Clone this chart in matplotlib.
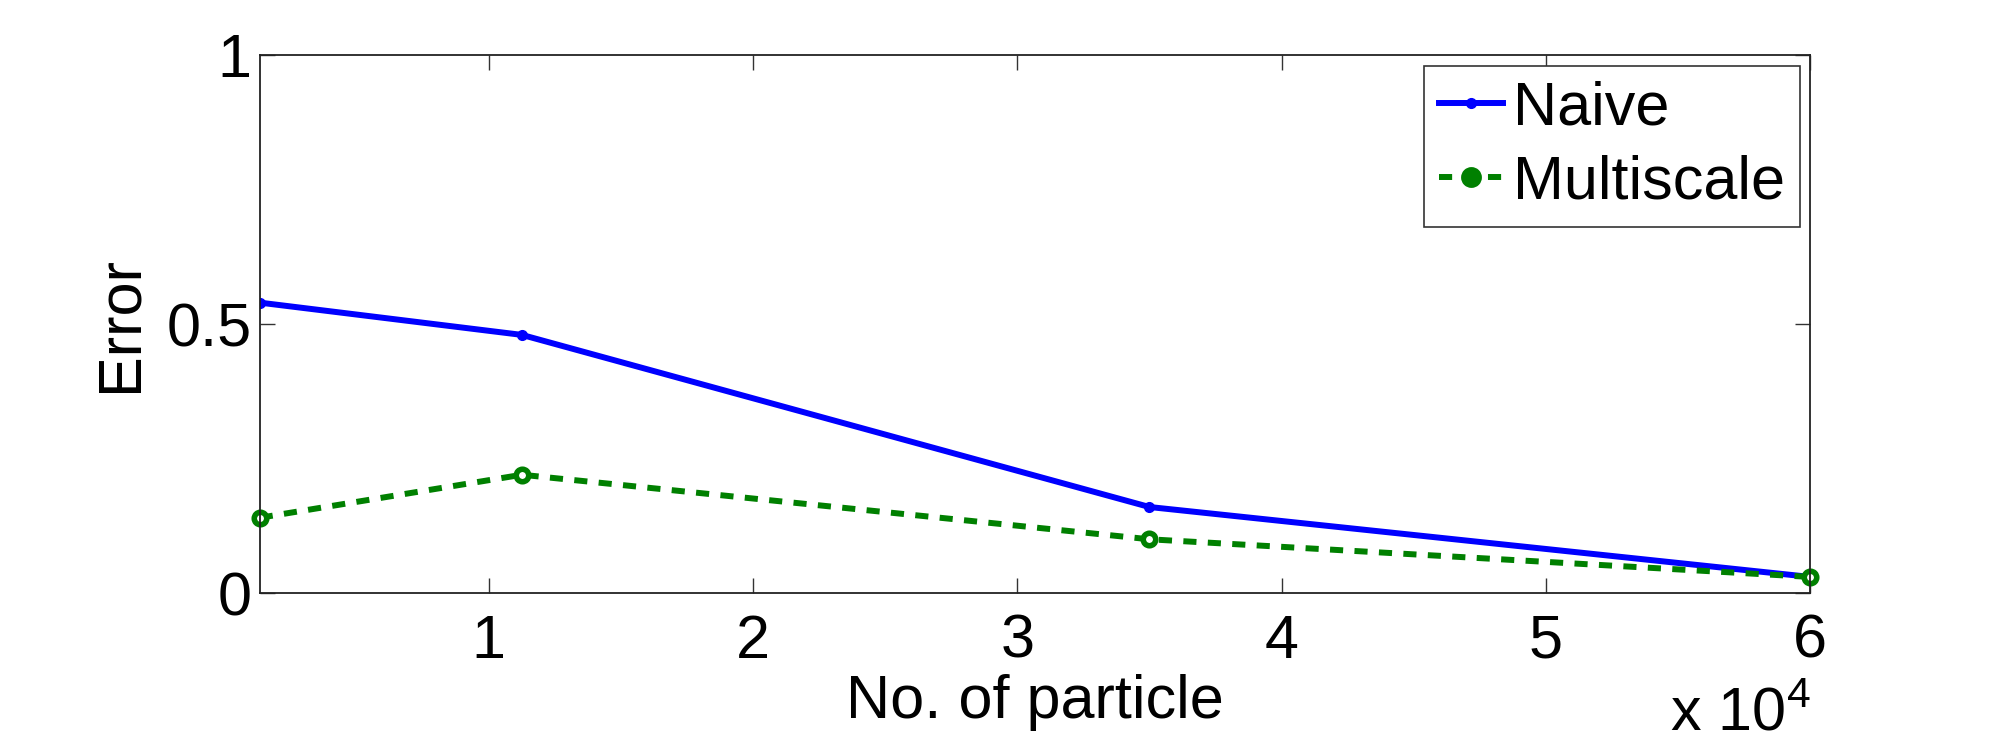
import matplotlib
matplotlib.use("Agg")
import matplotlib.pyplot as plt
import numpy as np

# data
particles = [1340, 11260, 35000, 60000]
naive_err = [0.54, 0.48, 0.16, 0.03]
multi_err = [0.14, 0.22, 0.10, 0.03]
x_ticks = [1, 2, 3, 4, 5, 6]
y_ticks = [0, 0.5, 1]
y_ticklabels = ["0", "0.5", "1"]

blue = (0, 0, 1)
green = (0, 0.5, 0)
fs = 44

plt.rcParams['font.family'] = ['Liberation Sans', 'DejaVu Sans']

fig = plt.figure(figsize=(19.98, 7.46), dpi=100)
ax = fig.add_axes([0.130, 0.205, 0.776, 0.721])

xs = np.array(particles) / 1e4
ax.plot(xs, naive_err, color=blue, lw=4.3, marker='.', ms=14,
        label='Naive')
ax.plot(xs, multi_err, color=green, lw=4.3, dashes=(2.2, 1.9),
        marker='o', ms=9, mfc='white', mew=4, label='Multiscale',
        clip_on=False)

ax.set_xlim(xs[0], 6)
ax.set_ylim(0, 1)
ax.set_xticks(x_ticks)
ax.set_xticklabels([str(t) for t in x_ticks])
ax.set_yticks(y_ticks)
ax.set_yticklabels(y_ticklabels)

ax.tick_params(direction='in', length=11, width=1, top=True, right=True,
               labelsize=fs, color='#333333')
ax.tick_params(axis='x', pad=15)
ax.tick_params(axis='y', pad=6)
for s in ax.spines.values():
    s.set_linewidth(1.3)
    s.set_color('#222222')

ax.set_xlabel('No. of particle', fontsize=fs, labelpad=2)
ax.set_ylabel('Error', fontsize=fs, labelpad=12)

# exponent note under the x axis, like MATLAB does it
fig.text(0.906, 0.003, r'x 10$^{\mathregular{4}}$', fontsize=fs,
         ha='right', va='bottom')

leg = ax.legend(loc='upper right', fontsize=fs, handlelength=1.05,
                handletextpad=0.15, borderpad=0.25, labelspacing=0.27,
                borderaxespad=0.17, fancybox=False, framealpha=1,
                edgecolor='#333333')
leg.get_frame().set_linewidth(1.2)
h = leg.legend_handles[1]
h.set_markerfacecolor(green)
h.set_markersize(11)

fig.savefig('out.png', dpi=100)
